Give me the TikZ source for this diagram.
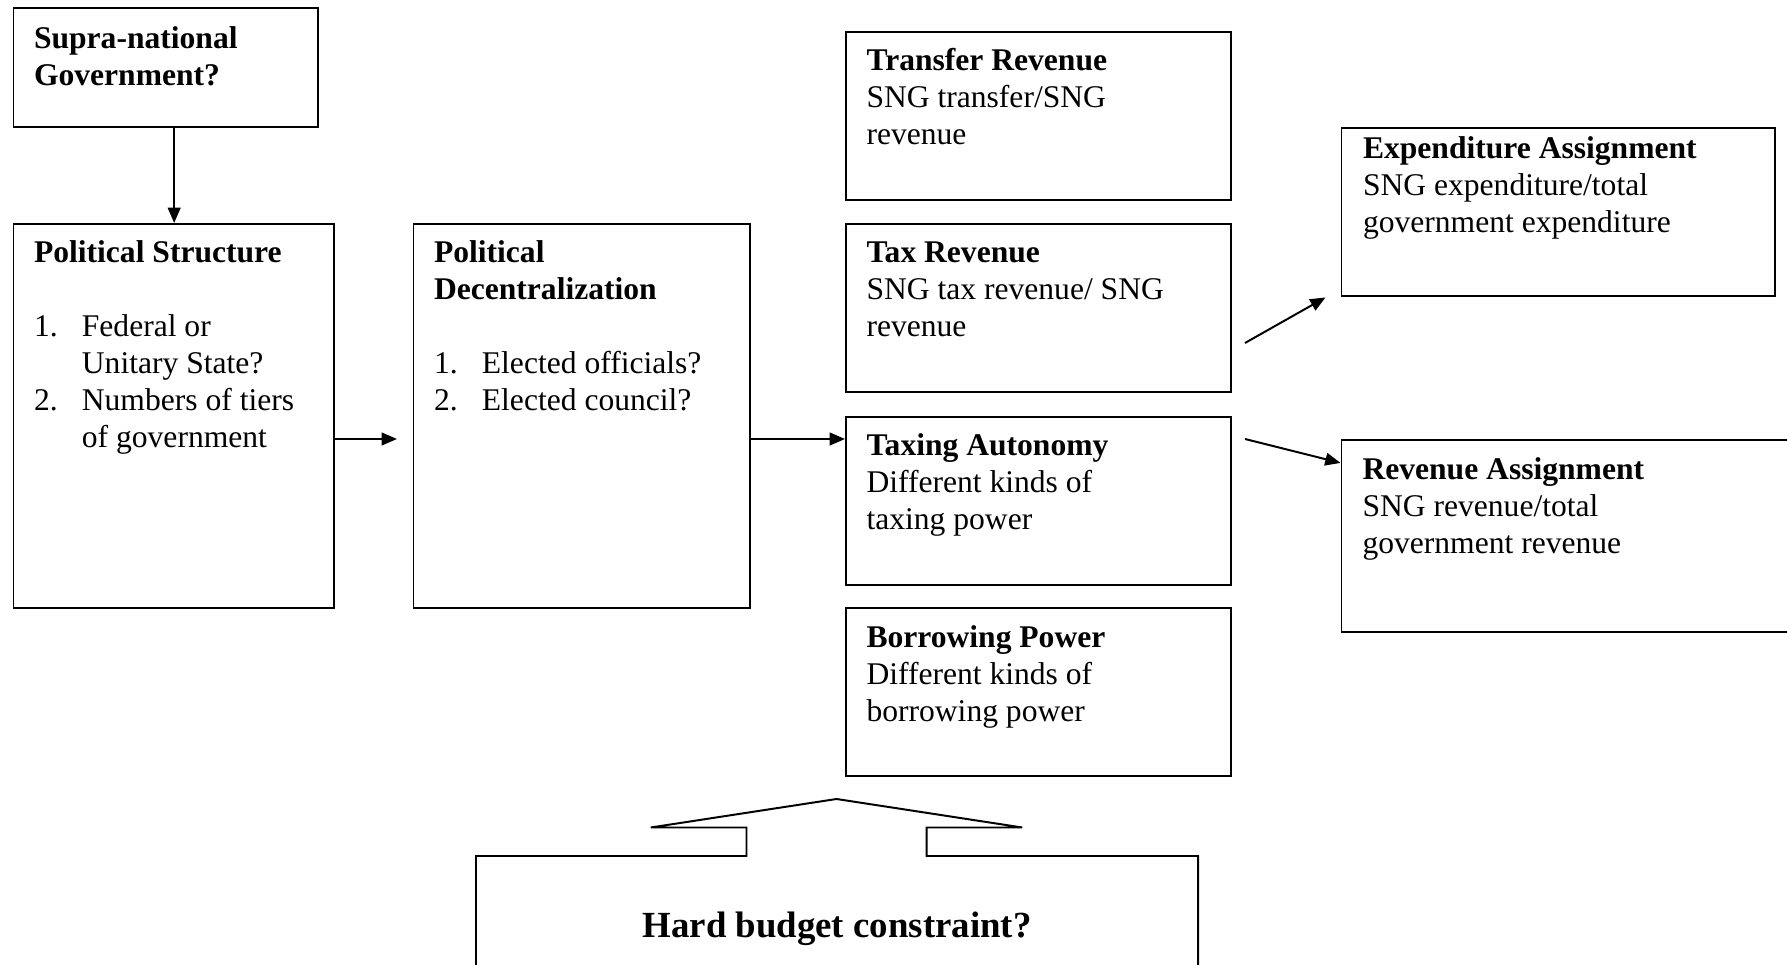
\documentclass[tikz,border=0pt]{standalone}
\usepackage{fontspec}
\setmainfont{Liberation Serif}
\usetikzlibrary{arrows.meta}
\newcommand\itm[1]{\makebox[18.2pt][l]{#1}}
\newcommand\ind{\hspace*{18.2pt}}
\newcommand\lns[1]{\begin{tabular}[t]{@{}l@{}}#1\end{tabular}}
\tikzset{
	box/.style={draw, line width=0.75pt, anchor=north west, inner sep=0pt},
	sized/.style 2 args={minimum width=#1*0.38pt, minimum height=#2*0.38pt},
	txt/.style={anchor=base west, inner sep=0pt, font=\fontsize{12}{14.06}\selectfont},
	arr/.style={line width=0.75pt, -{Triangle[length=5.8pt,width=4.8pt]}}
}
\begin{document}
\begin{tikzpicture}[x=0.38pt, y=-0.38pt, line join=miter]
	\clip (0,0) rectangle (1787,965);
	
	% left part
	\node[box, sized={304.5}{119.5}] (sup) at (12.5,7) {};
	\node[box, sized={320.5}{384}] (ps) at (12.5,223) {};
	\node[box, sized={336.5}{384}] (pd) at (412.5,223) {};
	
	% fiscal boxes
	\foreach \n/\y in {tr/31, tx/223, ta/416, bp/607.5} {
		\node[box, sized={385}{168}] (\n) at (845,\y) {};
	}
	\node[box, sized={433}{168.5}] (ex) at (1340.5,127) {};
	\node[box, sized={500}{192}] (ra) at (1340.5,439) {};
	
	% texts
	\node[txt] (sup-t) at ([shift={(21,42)}]sup.north west) {\lns{\textbf{Supra-national}\\\textbf{Government?}}};
	\node[txt] (ps-t) at ([shift={(21,40)}]ps.north west) {\lns{\textbf{Political Structure}\\[14.06pt]
		\itm{1.}Federal or\\\ind Unitary State?\\\itm{2.}Numbers of tiers\\\ind of government}};
	\node[txt] (pd-t) at ([shift={(21,40)}]pd.north west) {\lns{\textbf{Political}\\\textbf{Decentralization}\\[14.06pt]
		\itm{1.}Elected officials?\\\itm{2.}Elected council?}};
	\node[txt] (tr-t) at ([shift={(21,40)}]tr.north west) {\lns{\textbf{Transfer Revenue}\\SNG transfer/SNG\\revenue}};
	\node[txt] (tx-t) at ([shift={(21,40)}]tx.north west) {\lns{\textbf{Tax Revenue}\\SNG tax revenue/ SNG\\revenue}};
	\node[txt] (ta-t) at ([shift={(21,40)}]ta.north west) {\lns{\textbf{Taxing Autonomy}\\Different kinds of\\taxing power}};
	\node[txt] (bp-t) at ([shift={(21,40)}]bp.north west) {\lns{\textbf{Borrowing Power}\\Different kinds of\\borrowing power}};
	\node[txt] (ex-t) at ([shift={(22,32)}]ex.north west) {\lns{\textbf{Expenditure Assignment}\\SNG expenditure/total\\government expenditure}};
	\node[txt] (ra-t) at ([shift={(21.5,41)}]ra.north west) {\lns{\textbf{Revenue Assignment}\\SNG revenue/total\\government revenue}};
	
	% hard budget box with the hollow arrow on top
	\node[inner sep=0pt, anchor=north west, sized={721}{200}] (hb) at (476,856) {};
	\draw[line width=0.75pt] (hb.south west) -- (hb.north west) -- ++(270.5,0) -- ++(0,-28.5) -- ++(-95.7,0)
		-- ++(185.7,-28.5) -- ++(185.7,28.5) -- ++(-95.7,0) -- ++(0,28.5) -- (hb.north east) -- (hb.south east);
	\node[anchor=base, inner sep=0pt, font=\fontsize{14}{16}\selectfont\bfseries] (hb-t) at ([shift={(0,81)}]hb.north) {Hard budget constraint?};
	
	% arrows
	\coordinate (s1) at ([xshift=3.2pt]sup.south);
	\coordinate (m) at (0,439);
	\coordinate (d1) at (1245,343);
	\coordinate (d2) at (1245,439);
	\draw[arr] (s1) -- (s1 |- ps.north);
	\draw[arr, shorten >=5.9pt] (ps.east |- m) -- (pd.west |- m);
	\draw[arr] (pd.east |- m) -- (ta.west |- m);
	\draw[arr] (d1) -- ([xshift=-5.7pt]ex.south west);
	\draw[arr] (d2) -- ([yshift=-9.1pt]ra.north west);
\end{tikzpicture}
\end{document}
